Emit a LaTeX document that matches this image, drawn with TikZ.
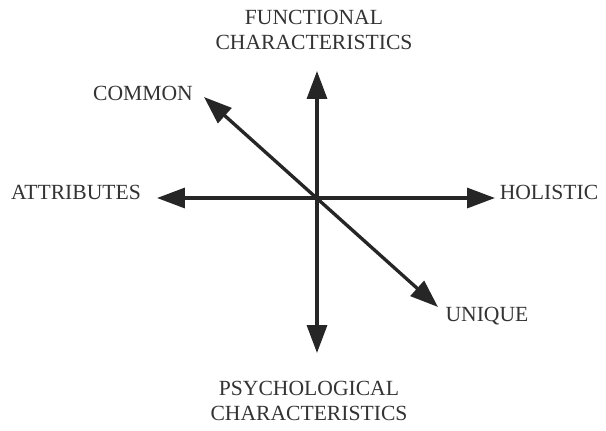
\documentclass[tikz,border=0pt]{standalone}
\usepackage{fontspec}
\setmainfont{Liberation Serif}
\usetikzlibrary{arrows.meta}

\begin{document}
\begin{tikzpicture}[
    x=0.02cm, y=-0.02cm,
    axis/.style={-{Triangle[length=5.6mm, width=4mm]}, line width=1.9pt, black!85},
    biaxis/.style={{Triangle[length=5.6mm, width=4mm]}-{Triangle[length=5.6mm, width=4mm]}, line width=1.9pt, black!85},
    label/.style={align=center, font=\fontsize{12.3}{14.5}\selectfont, text=black!80, inner sep=0pt},
]
\useasboundingbox (0,0) rectangle (606,430);

% Axes
\coordinate (c) at (317,198);
\coordinate (up) at (317,71);
\coordinate (down) at (317,353);
\coordinate (left) at (157,198);
\coordinate (right) at (495,198);
\coordinate (com) at (204,97);
\coordinate (uni) at (438,307);

\draw[axis] (c) -- (up);
\draw[axis] (c) -- (down);
\draw[axis] (c) -- (left);
\draw[axis] (c) -- (right);
\draw[biaxis] (com) -- (uni);

% Labels
\node[label] (func) at (314,30) {FUNCTIONAL\\CHARACTERISTICS};
\node[label] (psych) at (309,401) {PSYCHOLOGICAL\\CHARACTERISTICS};
\node[label] (common) at (143,93) {COMMON};
\node[label] (attr) at (76,192) {ATTRIBUTES};
\node[label] (hol) at (549,192) {HOLISTIC};
\node[label] (uniq) at (487,316) {UNIQUE};

\end{tikzpicture}
\end{document}
